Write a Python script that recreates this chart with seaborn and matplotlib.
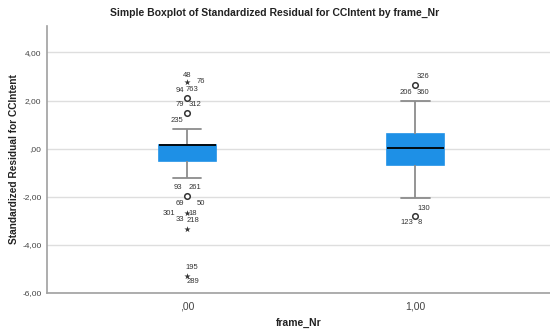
import matplotlib
matplotlib.use("Agg")
import matplotlib.pyplot as plt
import seaborn as sns
import pandas as pd

# ---- data ----
categories = [",00", "1,00"]
# values defining box (whisker low, q1, median, q3, whisker high)
box_g0 = [-1.20, -0.50, 0.15, 0.17, 0.82]
box_g1 = [-2.03, -0.67, 0.03, 0.62, 1.97]
# outliers: group index, value, kind
out_group = [0, 0, 0, 0, 0, 0, 0, 1, 1]
out_value = [2.76, 2.11, 1.49, -1.96, -2.68, -3.33, -5.29, 2.64, -2.79]
out_kind = ["extreme", "outlier", "outlier", "outlier", "extreme", "extreme", "extreme", "outlier", "outlier"]
# case labels: (outlier index, text, dx px, dy px)
case_labels = [
    (0, "48", 0, 7), (0, "76", 14, 1),
    (1, "94", -7, 7), (1, "763", 5, 8), (1, "79", -7, -7), (1, "312", 8, -7),
    (2, "235", -10, -8),
    (3, "93", -9, 8), (3, "261", 8, 8),
    (4, "69", -7, 10), (4, "50", 14, 10), (4, "301", -18, 0), (4, "18", 6, 0),
    (5, "33", -7, 9), (5, "218", 6, 8),
    (6, "195", 5, 8), (6, "289", 6, -6),
    (7, "326", 8, 9), (7, "206", -9, -7), (7, "360", 8, -7),
    (8, "130", 8, 7), (8, "123", -9, -7), (8, "8", 4, -7),
]
yticks = [4, 2, 0, -2, -4, -6]
ytick_labels = ["4,00", "2,00", ",00", "-2,00", "-4,00", "-6,00"]

box_df = pd.DataFrame({
    "frame_Nr": [categories[0]] * len(box_g0) + [categories[1]] * len(box_g1),
    "resid": box_g0 + box_g1,
})
out_df = pd.DataFrame({
    "frame_Nr": [categories[g] for g in out_group],
    "resid": out_value,
    "kind": out_kind,
})

sns.set_theme(style="white")
plt.rcParams["font.family"] = ["Liberation Sans", "DejaVu Sans"]

fig = plt.figure(figsize=(5.5, 3.32), dpi=100)
ax = fig.add_axes([47 / 550, 1 - 293 / 332, 1 - 47 / 550, (293 - 26) / 332])

blue = "#1E90E6"
sns.boxplot(data=box_df, x="frame_Nr", y="resid", order=categories, ax=ax,
            width=0.25, whis=1.5, showfliers=False, color=blue, saturation=1,
            linewidth=1.2,
            boxprops=dict(facecolor=blue, edgecolor=blue),
            medianprops=dict(color="black", linewidth=1.3),
            whiskerprops=dict(color="#8c8c8c", linewidth=1.3),
            capprops=dict(color="#8c8c8c", linewidth=1.3), zorder=3)

sns.scatterplot(data=out_df[out_df["kind"] == "outlier"], x="frame_Nr", y="resid", ax=ax,
                marker="o", s=16, facecolor="white", edgecolor="#333333", linewidth=1.1,
                zorder=4, legend=False)
sns.scatterplot(data=out_df[out_df["kind"] == "extreme"], x="frame_Nr", y="resid", ax=ax,
                marker="*", s=22, color="#333333", linewidth=0, zorder=4, legend=False)

for idx, txt, dx, dy in case_labels:
    ax.annotate(txt, (out_group[idx], out_value[idx]), xytext=(dx, dy),
                textcoords="offset pixels", ha="center", va="center",
                fontsize=5.5, color="#333333")

ax.set_xlim(-0.614, 1.59)
ax.set_ylim(-6, 5.1)
ax.set_yticks(yticks)
ax.set_yticklabels(ytick_labels)
ax.yaxis.grid(True, color="#dedede", linewidth=1)
ax.set_axisbelow(True)
ax.tick_params(axis="both", length=0, labelsize=6, colors="#444444", pad=4)
ax.tick_params(axis="x", labelsize=7.5, pad=6)
for s in ["top", "right"]:
    ax.spines[s].set_visible(False)
for s in ["left", "bottom"]:
    ax.spines[s].set_color("#a0a0a0")
    ax.spines[s].set_linewidth(1.2)

ax.set_xlabel("frame_Nr", fontsize=7.5, fontweight="bold", color="#222222", labelpad=5)
ax.set_ylabel("Standardized Residual for CCIntent", fontsize=7.3, fontweight="bold",
              color="#222222", labelpad=2)
fig.suptitle("Simple Boxplot of Standardized Residual for CCIntent by frame_Nr",
             x=0.5, y=0.975, fontsize=7.5, fontweight="bold", color="#222222")

fig.savefig("out.png", dpi=100)
